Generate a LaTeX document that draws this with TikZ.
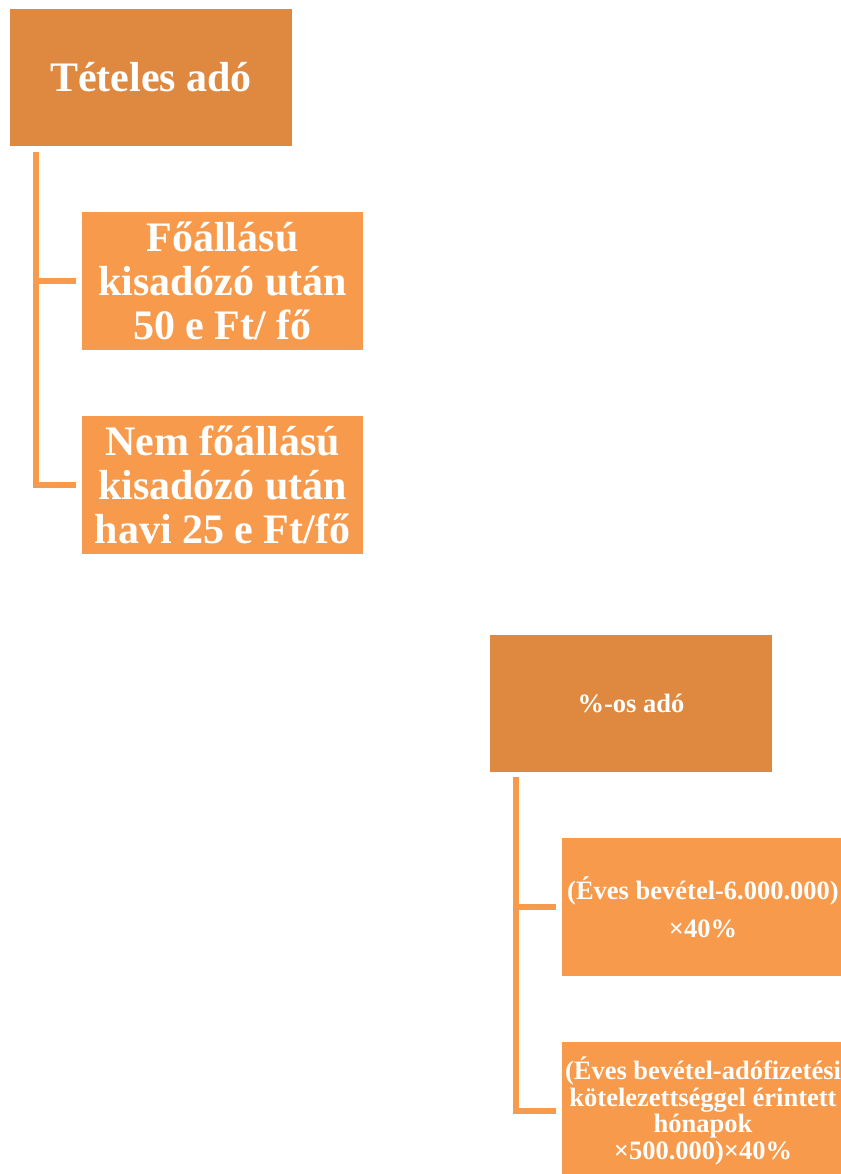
\documentclass[tikz,border=0pt]{standalone}
\usepackage{fontspec}
\setmainfont{Liberation Serif}
\definecolor{parentfill}{HTML}{DF883F}
\definecolor{childfill}{HTML}{F79A4C}
\definecolor{connline}{HTML}{F79A4C}
\begin{document}
\begin{tikzpicture}[x=1bp,y=-1bp,
  headbox/.style={fill=parentfill,draw=none,minimum width=282bp,minimum height=137bp,
    inner sep=0pt,text=white,align=center,font=\bfseries},
  itembox/.style={fill=childfill,draw=none,minimum width=281bp,minimum height=138bp,
    inner sep=0pt,text=white,align=center,font=\bfseries},
  conn/.style={draw=connline,line width=6bp}]
\useasboundingbox (0,0) rectangle (841,1174);
\begin{scope}
\clip (0,0) rectangle (841,1174);
% left tree
\node[headbox,font=\bfseries\fontsize{42bp}{45bp}\selectfont] (t1) at (151,77.5) {Tételes adó};
\node[itembox,font=\bfseries\fontsize{42bp}{44bp}\selectfont] (t2) at (222.5,281) {Főállású\\kisadózó után\\50 e Ft/ fő};
\node[itembox,font=\bfseries\fontsize{42bp}{44bp}\selectfont] (t3) at (222.5,485) {Nem főállású\\kisadózó után\\havi 25 e Ft/fő};
\draw[conn] ([xshift=26bp,yshift=-6bp]t1.south west) |- ([xshift=-6bp]t2.west);
\draw[conn] ([xshift=26bp,yshift=-6bp]t1.south west) |- ([xshift=-6bp]t3.west);
% right tree
\node[headbox,font=\bfseries\fontsize{26.5bp}{30bp}\selectfont] (p1) at (631,703) {\%-os adó};
\node[itembox,minimum width=282bp,font=\bfseries\fontsize{26.5bp}{38bp}\selectfont] (p2) at (703,907) {(Éves bevétel-6.000.000)\\×40\%};
\node[itembox,minimum width=282bp,font=\bfseries\fontsize{26.5bp}{26.7bp}\selectfont] (p3) at (703,1111) {(Éves bevétel-adófizetési\\kötelezettséggel érintett\\hónapok\\×500.000)×40\%};
\draw[conn] ([xshift=26bp,yshift=-5bp]p1.south west) |- ([xshift=-6bp]p2.west);
\draw[conn] ([xshift=26bp,yshift=-5bp]p1.south west) |- ([xshift=-6bp]p3.west);
\end{scope}
\end{tikzpicture}
\end{document}
